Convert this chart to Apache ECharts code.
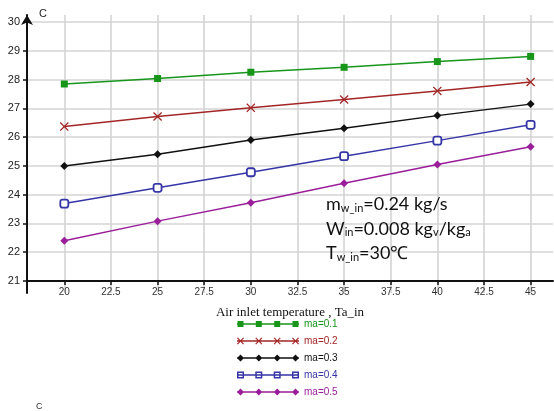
<!DOCTYPE html>
<html>
<head>
<meta charset="utf-8">
<script src="https://cdn.jsdelivr.net/npm/echarts@6/dist/echarts.min.js"></script>
<style>
  html, body { margin: 0; padding: 0; background: #fff; }
  #chart { width: 554px; height: 411px; }
</style>
</head>
<body>
<div id="chart"></div>
<script>
// Air inlet temperature (x) and outlet temperatures for each air mass flow
const airInlet = [20, 25, 30, 35, 40, 45];
const ma01 = [27.85, 28.04, 28.26, 28.43, 28.63, 28.81];
const ma02 = [26.37, 26.72, 27.02, 27.31, 27.61, 27.92];
const ma03 = [25.0, 25.41, 25.9, 26.31, 26.75, 27.15];
const ma04 = [23.69, 24.24, 24.78, 25.34, 25.88, 26.43];
const ma05 = [22.4, 23.08, 23.72, 24.4, 25.05, 25.67];

const xTicks = [20, 22.5, 25, 27.5, 30, 32.5, 35, 37.5, 40, 42.5, 45];
const yTicks = [21, 22, 23, 24, 25, 26, 27, 28, 29, 30];

const seriesNames = ['ma=0.1', 'ma=0.2', 'ma=0.3', 'ma=0.4', 'ma=0.5'];
const seriesColors = ['#17961a', '#a32626', '#111111', '#3535a8', '#9a1d9a'];

const crossPath = 'path://M0,1L1,0L5,4L9,0L10,1L6,5L10,9L9,10L5,6L1,10L0,9L4,5Z';

/*
* Legend icons: a line with four markers, like the original legend
*/
const iconCenters = [3.5, 21.8, 40.2, 58.5];
const iconLine = 'M0,3.3L62,3.3L62,4.7L0,4.7Z';
const markerPath = {
    square: (c) => `M${c - 3},1L${c + 3},1L${c + 3},7L${c - 3},7Z`,
    cross: (c) => `M${c - 3.5},1.2L${c - 2.7},0.5L${c},3.2L${c + 2.7},0.5L${c + 3.5},1.2L${c + 0.8},4L${c + 3.5},6.8L${c + 2.7},7.5L${c},4.8L${c - 2.7},7.5L${c - 3.5},6.8L${c - 0.8},4Z`,
    diamond: (c) => `M${c},0.5L${c + 3.5},4L${c},7.5L${c - 3.5},4Z`,
    hollow: (c) => `M${c - 3.5},0.5L${c + 3.5},0.5L${c + 3.5},7.5L${c - 3.5},7.5Z M${c - 2},2L${c - 2},6L${c + 2},6L${c + 2},2Z`
};
const legendIcon = (kind) => 'path://M0,0L0.01,0L0.01,8L0,8Z ' + iconLine + ' ' + iconCenters.map(markerPath[kind]).join(' ');
const iconKinds = ['square', 'cross', 'diamond', 'hollow', 'diamond'];

const chart = echarts.init(document.getElementById('chart'));

const pairs = (ys) => airInlet.map((x, i) => [x, ys[i]]);

const makeSeries = (idx, ys, symbol, size, hollow) => ({
    name: seriesNames[idx],
    type: 'line',
    data: pairs(ys),
    symbol: symbol,
    symbolSize: size,
    showAllSymbol: true,
    lineStyle: { color: seriesColors[idx], width: 1.5 },
    itemStyle: hollow
        ? { color: '#fff', borderColor: seriesColors[idx], borderWidth: 1.8 }
        : { color: seriesColors[idx] },
    emphasis: { disabled: true }
});

const option = {
    animation: false,
    backgroundColor: '#fff',
    grid: { left: 27, right: 1, top: 15, bottom: 118, containLabel: false },
    title: [
        {
            left: 321,
            top: 184,
            text: '{m|m}{s|w_in}{m|=0.24 kg/s}\n{m|W}{s|in}{m|=0.008 kg}{s|v}{m|/kg}{s|a}\n{m|T}{s|w_in}{m|=30℃}',
            textStyle: {
                lineHeight: 24.5,
                fontWeight: 'normal',
                rich: {
                    m: { fontFamily: 'Lato', fontSize: 18, fontWeight: 'normal', color: '#111', verticalAlign: 'bottom', lineHeight: 24.5 },
                    s: { fontFamily: 'Lato', fontSize: 11, fontWeight: 'normal', color: '#111', verticalAlign: 'bottom', lineHeight: 20 }
                }
            }
        },
        {
            left: 31,
            top: 397,
            text: 'C',
            textStyle: { fontFamily: 'Liberation Sans', fontSize: 9, fontWeight: 'normal', color: '#333' }
        }
    ],
    legend: {
        orient: 'vertical',
        left: 237,
        top: 319,
        itemWidth: 62,
        itemHeight: 8,
        itemGap: 7,
        padding: 0,
        itemStyle: { borderWidth: 0 },
        textStyle: { fontFamily: 'Liberation Sans', fontSize: 10 },
        data: seriesNames.map((n, i) => ({
            name: n,
            icon: legendIcon(iconKinds[i]),
            itemStyle: { color: seriesColors[i], borderWidth: 0 },
            textStyle: { color: seriesColors[i] }
        }))
    },
    xAxis: {
        type: 'value',
        min: 18,
        max: 46.2,
        offset: -12,
        name: 'Air inlet temperature , Ta_in',
        nameLocation: 'middle',
        nameGap: 25,
        nameTextStyle: { fontFamily: 'Liberation Serif', fontSize: 13, color: '#111' },
        axisLine: { lineStyle: { color: '#111', width: 2 } },
        axisTick: { show: true, customValues: xTicks, length: 4, lineStyle: { color: '#111', width: 1.5 } },
        axisLabel: { customValues: xTicks, fontFamily: 'Liberation Sans', fontSize: 10, color: '#333', margin: 6 },
        splitLine: { show: true, lineStyle: { color: '#d4d4d4', width: 1.6 } }
    },
    yAxis: {
        type: 'value',
        min: 20.58,
        max: 30.25,
        name: 'C',
        nameLocation: 'end',
        nameGap: -4,
        nameTextStyle: { fontFamily: 'Liberation Sans', fontSize: 11, color: '#222', align: 'left', padding: [0, 0, 0, 12] },
        axisLine: {
            show: true,
            symbol: ['none', 'arrow'],
            symbolSize: [9, 10],
            lineStyle: { color: '#111', width: 2 }
        },
        axisTick: { show: true, customValues: yTicks, length: 4, lineStyle: { color: '#111', width: 1.5 } },
        axisLabel: { customValues: yTicks, fontFamily: 'Liberation Sans', fontSize: 11, color: '#222', margin: 7 },
        splitLine: { show: true, lineStyle: { color: '#d4d4d4', width: 1.6 } }
    },
    series: [
        makeSeries(0, ma01, 'rect', 7, false),
        makeSeries(1, ma02, crossPath, 9, false),
        makeSeries(2, ma03, 'diamond', 8, false),
        makeSeries(3, ma04, 'roundRect', 8, true),
        makeSeries(4, ma05, 'diamond', 8, false)
    ]
};

chart.setOption(option);
</script>
</body>
</html>
